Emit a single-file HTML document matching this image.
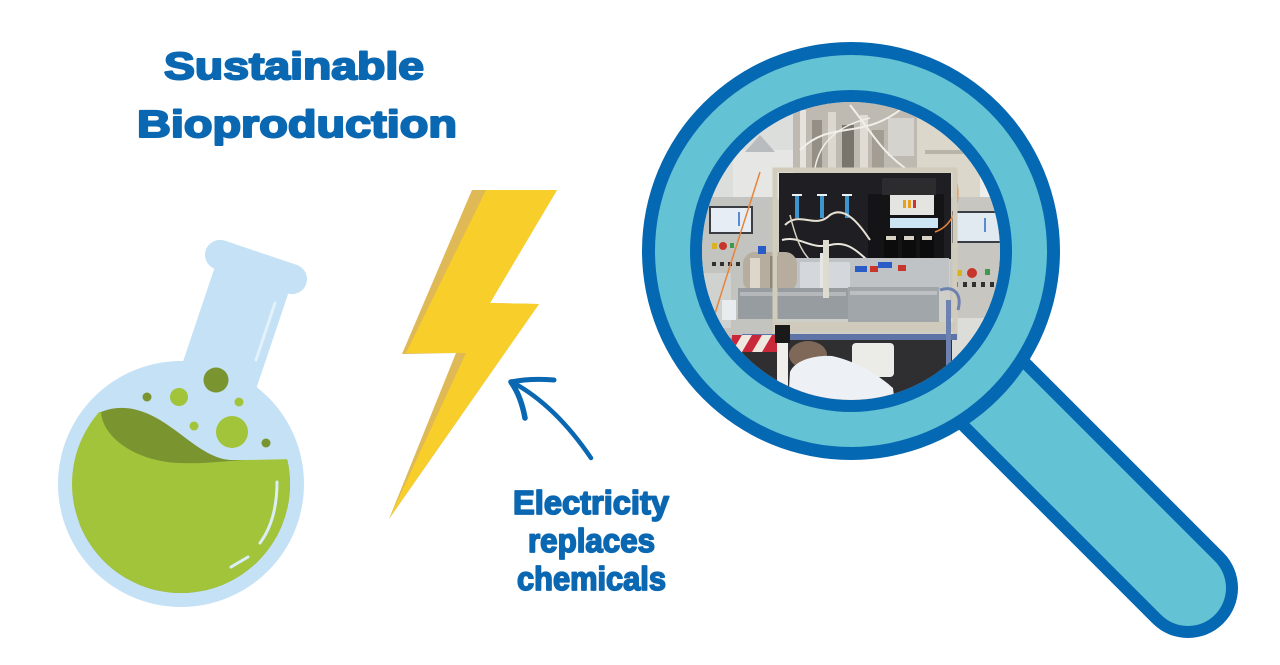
<!DOCTYPE html>
<html>
<head>
<meta charset="utf-8">
<style>
  html, body { margin: 0; padding: 0; background: #ffffff; }
  body { width: 1280px; height: 665px; overflow: hidden; }
  svg { display: block; }
  .t { font-family: "Liberation Sans", "DejaVu Sans", sans-serif; font-weight: bold; fill: #0a67b1; stroke: #0a67b1; stroke-linejoin: round; }
</style>
</head>
<body>
<svg width="1280" height="665" viewBox="0 0 1280 665" xmlns="http://www.w3.org/2000/svg">
  <defs>
    <clipPath id="liq"><circle cx="181" cy="484" r="109"/></clipPath>
    <clipPath id="photo"><circle cx="851" cy="251" r="149"/></clipPath>
  </defs>
  <rect x="0" y="0" width="1280" height="665" fill="#ffffff"/>

  <!-- Title -->
  <text class="t" x="164" y="79" font-size="38" stroke-width="2" textLength="260" lengthAdjust="spacingAndGlyphs">Sustainable</text>
  <text class="t" x="137" y="137" font-size="38" stroke-width="2" textLength="320" lengthAdjust="spacingAndGlyphs">Bioproduction</text>

  <!-- Flask -->
  <g transform="translate(256,267) rotate(18.6)" fill="#c5e1f5">
    <rect x="-39" y="0" width="78" height="135"/>
    <rect x="-53" y="-15" width="106" height="30" rx="15" ry="15"/>
  </g>
  <circle cx="181" cy="484" r="123" fill="#c5e1f5"/>
  <line x1="275" y1="303" x2="256" y2="360" stroke="#e3f1fb" stroke-width="3" stroke-linecap="round"/>
  <g clip-path="url(#liq)">
    <path d="M101 412 C120 404 140 408 160 420 C185 435 205 458 230 460 L300 460 L300 620 L60 620 Z" fill="#7a9530"/>
    <path d="M60 412 L101 412 C103 440 140 462 180 463 C205 464 225 461 245 460 L300 459 L300 620 L60 620 Z" fill="#a2c43a"/>
  </g>
  <path d="M277 482 Q277 520 260 543" fill="none" stroke="#d9eef9" stroke-width="3" stroke-linecap="round"/>
  <path d="M248 557 L231 567" fill="none" stroke="#d9eef9" stroke-width="3" stroke-linecap="round"/>
  <!-- bubbles -->
  <circle cx="216" cy="380" r="12.5" fill="#7a9530"/>
  <circle cx="179" cy="397" r="9" fill="#a2c43a"/>
  <circle cx="147" cy="397" r="4.5" fill="#7a9530"/>
  <circle cx="239" cy="402" r="4.5" fill="#a2c43a"/>
  <circle cx="194" cy="426" r="4.5" fill="#a2c43a"/>
  <circle cx="232" cy="432" r="16" fill="#a2c43a"/>
  <circle cx="266" cy="443" r="4.5" fill="#7a9530"/>

  <!-- Lightning bolt -->
  <polygon points="472,190 557,190 490,303 539,304 389,519 456,353 402,354" fill="#dfb955"/>
  <polygon points="486,190 557,190 490,303 539,304 390,517 466,353 406,353" fill="#f7ce2a"/>

  <!-- Arrow -->
  <path d="M591 458 Q555 405 512 382" fill="none" stroke="#0a67b1" stroke-width="4.5" stroke-linecap="round"/>
  <path d="M554 380 Q530 378 511 382" fill="none" stroke="#0a67b1" stroke-width="5" stroke-linecap="round"/>
  <path d="M511 382 Q521 396 525 418" fill="none" stroke="#0a67b1" stroke-width="5.5" stroke-linecap="round"/>

  <!-- Electricity text -->
  <text class="t" x="513" y="514" font-size="33" stroke-width="1.7" textLength="156" lengthAdjust="spacingAndGlyphs">Electricity</text>
  <text class="t" x="528" y="552" font-size="33" stroke-width="1.7" textLength="127" lengthAdjust="spacingAndGlyphs">replaces</text>
  <text class="t" x="517" y="590" font-size="33" stroke-width="1.7" textLength="149" lengthAdjust="spacingAndGlyphs">chemicals</text>

  <!-- Magnifier handle -->
  <line x1="900" y1="300" x2="1188" y2="588" stroke="#0568b2" stroke-width="100" stroke-linecap="round"/>
  <line x1="900" y1="300" x2="1188" y2="588" stroke="#63c2d3" stroke-width="76" stroke-linecap="round"/>
  <!-- Ring -->
  <circle cx="851" cy="251" r="209" fill="#0568b2"/>
  <circle cx="851" cy="251" r="196" fill="#63c2d3"/>
  <circle cx="851" cy="251" r="161" fill="#0568b2"/>

  <!-- Photo approximation -->
  <g clip-path="url(#photo)">
    <rect x="690" y="95" width="330" height="320" fill="#cfcfca"/>
    <!-- upper left walls -->
    <rect x="700" y="100" width="95" height="100" fill="#dcdedc"/>
    <rect x="733" y="150" width="60" height="48" fill="#e6e7e4"/>
    <polygon points="745,152 760,135 775,152" fill="#b9bcbf"/>
    <!-- top machinery -->
    <rect x="793" y="100" width="125" height="72" fill="#bfbab1"/>
    <rect x="800" y="110" width="6" height="60" fill="#e6e3dc"/>
    <rect x="812" y="120" width="10" height="50" fill="#958f85"/>
    <rect x="828" y="112" width="8" height="58" fill="#ddd8cf"/>
    <rect x="842" y="125" width="12" height="45" fill="#7a756c"/>
    <rect x="860" y="115" width="8" height="55" fill="#e0dcd4"/>
    <rect x="872" y="130" width="12" height="40" fill="#a39d93"/>
    <rect x="888" y="118" width="26" height="38" fill="#d5d3ce"/>
    <path d="M800 150 C830 120 860 140 900 110" fill="none" stroke="#f1efea" stroke-width="2"/>
    <path d="M850 105 C870 130 880 150 905 168" fill="none" stroke="#f1efea" stroke-width="2"/>
    <path d="M815 168 C820 140 840 125 870 118" fill="none" stroke="#f1efea" stroke-width="1.5"/>
    <!-- top right -->
    <rect x="917" y="118" width="90" height="80" fill="#dbd7cb"/>
    <rect x="925" y="150" width="80" height="4" fill="#b9b4a8"/>
    <rect x="980" y="170" width="12" height="28" fill="#eeeeec"/>
    <!-- left cabinet -->
    <rect x="698" y="197" width="75" height="143" fill="#c3c3bf"/>
    <rect x="709" y="206" width="44" height="28" fill="#3a3e44"/>
    <rect x="711" y="208" width="40" height="24" fill="#e6edf4"/>
    <rect x="738" y="212" width="2" height="14" fill="#5a8ad0"/>
    <rect x="712" y="243" width="5" height="6" fill="#d9b21e"/>
    <circle cx="723" cy="246" r="4" fill="#c8352a"/>
    <rect x="730" y="243" width="4" height="5" fill="#3e9a4a"/>
    <rect x="712" y="262" width="4" height="4" fill="#303030"/>
    <rect x="720" y="262" width="4" height="4" fill="#303030"/>
    <rect x="728" y="262" width="4" height="4" fill="#303030"/>
    <rect x="736" y="262" width="4" height="4" fill="#303030"/>
    <rect x="703" y="273" width="28" height="55" fill="#d0d2d0"/>
    <rect x="722" y="300" width="14" height="20" fill="#e8ecee"/>
    <!-- right cabinet -->
    <rect x="950" y="197" width="60" height="135" fill="#c7c6c1"/>
    <rect x="952" y="211" width="52" height="32" fill="#3a3e44"/>
    <rect x="954" y="213" width="50" height="28" fill="#e1e9f1"/>
    <rect x="984" y="218" width="2" height="14" fill="#5a8ad0"/>
    <rect x="957" y="270" width="5" height="6" fill="#d9b21e"/>
    <circle cx="972" cy="273" r="5" fill="#c8352a"/>
    <rect x="985" y="269" width="5" height="6" fill="#3e9a4a"/>
    <rect x="954" y="282" width="4" height="5" fill="#303030"/>
    <rect x="963" y="282" width="4" height="5" fill="#303030"/>
    <rect x="972" y="282" width="4" height="5" fill="#303030"/>
    <rect x="981" y="282" width="4" height="5" fill="#303030"/>
    <rect x="990" y="282" width="4" height="5" fill="#303030"/>
    <rect x="950" y="318" width="60" height="80" fill="#dcdcd8"/>
    <!-- black panel -->
    <rect x="779" y="173" width="172" height="86" fill="#1f1f23"/>
    <rect x="868" y="194" width="76" height="73" fill="#141416"/>
    <rect x="882" y="178" width="54" height="17" fill="#2c2c2e"/>
    <rect x="890" y="195" width="44" height="20" fill="#e4e4e0"/>
    <rect x="903" y="200" width="3" height="8" fill="#e8a020"/>
    <rect x="908" y="200" width="3" height="8" fill="#e8a020"/>
    <rect x="913" y="200" width="3" height="8" fill="#c33"/>
    <rect x="890" y="218" width="48" height="10" fill="#cde5f2"/>
    <rect x="884" y="236" width="14" height="26" fill="#0c0c0c"/>
    <rect x="902" y="236" width="14" height="26" fill="#0c0c0c"/>
    <rect x="920" y="236" width="14" height="26" fill="#0c0c0c"/>
    <rect x="886" y="236" width="10" height="4" fill="#d8d2c4"/>
    <rect x="904" y="236" width="10" height="4" fill="#d8d2c4"/>
    <rect x="922" y="236" width="10" height="4" fill="#d8d2c4"/>
    <!-- syringes -->
    <rect x="795" y="195" width="4" height="23" fill="#3c95cc"/>
    <rect x="820" y="195" width="4" height="23" fill="#3c95cc"/>
    <rect x="845" y="195" width="4" height="23" fill="#3c95cc"/>
    <rect x="792" y="194" width="10" height="2" fill="#e9f2f8"/>
    <rect x="817" y="194" width="10" height="2" fill="#e9f2f8"/>
    <rect x="842" y="194" width="10" height="2" fill="#e9f2f8"/>
    <!-- tubes -->
    <path d="M785 225 C800 210 815 230 830 215 C845 205 860 225 870 240" fill="none" stroke="#e7e1d4" stroke-width="2"/>
    <path d="M782 240 C800 235 810 250 830 245 C850 240 860 255 870 262" fill="none" stroke="#eae6dc" stroke-width="2"/>
    <path d="M790 215 C795 235 800 250 810 260" fill="none" stroke="#d9d2c2" stroke-width="1.5"/>
    <path d="M760 172 C745 220 725 280 710 330" fill="none" stroke="#e7843a" stroke-width="1.5"/>
    <path d="M955 175 C962 200 955 225 935 232" fill="none" stroke="#e7843a" stroke-width="1.5"/>
    <!-- lower area inside frame -->
    <rect x="779" y="258" width="170" height="32" fill="#bfc3c6"/>
    <rect x="800" y="262" width="50" height="26" fill="#d4d8dc"/>
    <rect x="855" y="266" width="12" height="6" fill="#2a5cc8"/>
    <rect x="878" y="262" width="14" height="6" fill="#2a5cc8"/>
    <rect x="870" y="266" width="8" height="6" fill="#c8352a"/>
    <rect x="898" y="265" width="8" height="6" fill="#c8352a"/>
    <rect x="820" y="253" width="8" height="45" fill="#e6e6e2"/>
    <rect x="775" y="273" width="8" height="8" fill="#c8352a"/>
    <!-- kettle -->
    <rect x="743" y="252" width="54" height="40" rx="12" fill="#b6ad9f"/>
    <rect x="750" y="258" width="10" height="30" fill="#dcd6cb"/>
    <rect x="770" y="256" width="8" height="32" fill="#8e877c"/>
    <rect x="758" y="246" width="8" height="8" fill="#2a5cc8"/>
    <!-- trays -->
    <rect x="738" y="288" width="110" height="31" fill="#979ca0"/>
    <rect x="740" y="292" width="106" height="4" fill="#b4b8bb"/>
    <rect x="848" y="287" width="91" height="38" fill="#a1a6aa"/>
    <rect x="850" y="291" width="87" height="4" fill="#bcc0c3"/>
    <!-- frame -->
    <rect x="775" y="170" width="180" height="166" fill="none" stroke="#d1ccbb" stroke-width="5"/>
    <rect x="823" y="240" width="6" height="58" fill="#dedbd0"/>
    <rect x="775" y="322" width="180" height="10" fill="#cfcabb"/>
    <rect x="742" y="334" width="215" height="6" fill="#5e74a6"/>
    <!-- under cart -->
    <rect x="742" y="340" width="210" height="60" fill="#2f2f31"/>
    <rect x="700" y="338" width="42" height="65" fill="#8a8a86"/>
    <rect x="862" y="345" width="30" height="30" fill="#3e3e40"/>
    <rect x="852" y="343" width="42" height="34" rx="4" fill="#ebebe8"/>
    <rect x="946" y="300" width="5" height="95" fill="#6d82b0"/>
    <path d="M940 290 C955 285 962 295 958 310" fill="none" stroke="#6d82b0" stroke-width="3"/>
    <!-- barrier -->
    <rect x="732" y="335" width="46" height="17" fill="#c8283a"/>
    <polygon points="742,335 752,335 742,352 732,352" fill="#efe8de"/>
    <polygon points="762,335 772,335 762,352 752,352" fill="#efe8de"/>
    <rect x="775" y="325" width="15" height="18" fill="#1a1a1a"/>
    <rect x="777" y="343" width="11" height="55" fill="#f0efec"/>
    <!-- person -->
    <ellipse cx="808" cy="355" rx="19" ry="14" fill="#7f6858"/>
    <path d="M788 405 L790 372 C795 360 815 355 832 356 C852 360 875 372 893 388 L895 405 Z" fill="#edf0f4"/>
  </g>
</svg>
</body>
</html>
